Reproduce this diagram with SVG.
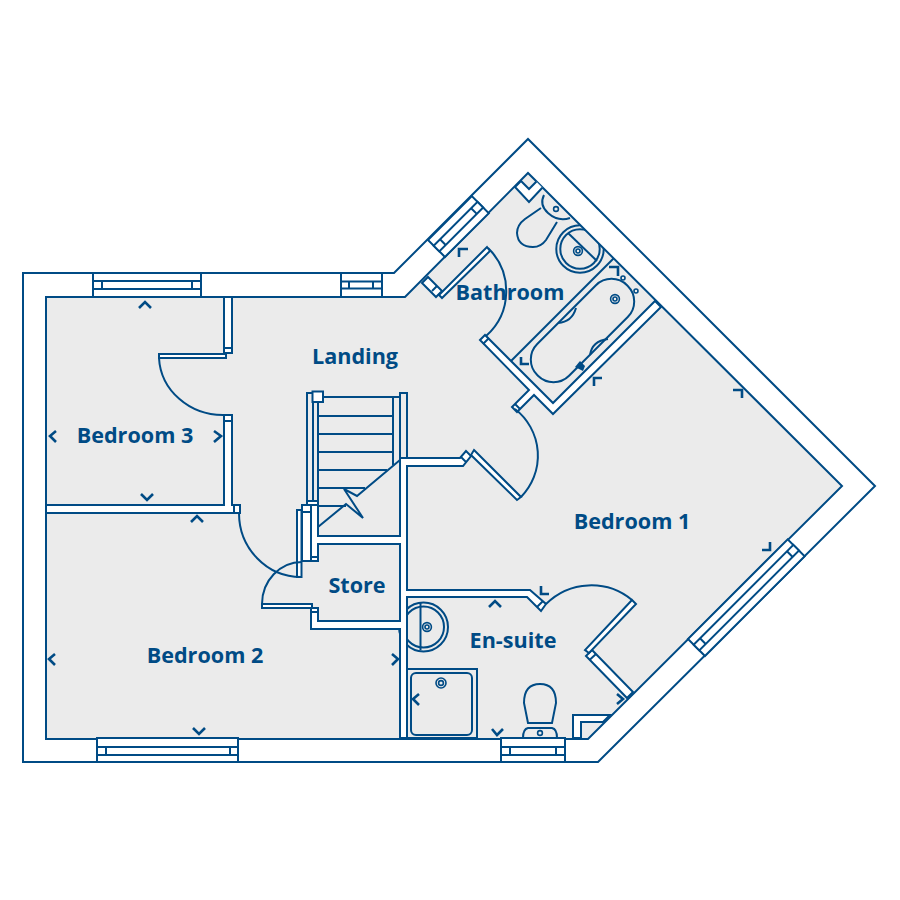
<svg xmlns="http://www.w3.org/2000/svg" width="900" height="900" viewBox="0 0 900 900">
<style>
.l{fill:none;stroke:#004b85;stroke-width:2;stroke-linejoin:miter}
.t{fill:none;stroke:#004b85;stroke-width:1.6}
.w{fill:#fff;stroke:#004b85;stroke-width:2;stroke-linejoin:miter}
.g{fill:#ebebeb;stroke:#004b85;stroke-width:2}
.m{fill:none;stroke:#004b85;stroke-width:2.6}
text{font-family:"Open Sans","Noto Sans",sans-serif;font-weight:700;font-size:21.6px;fill:#004b85;text-anchor:middle}
</style>
<defs>
<clipPath id="floorClip"><polygon points="46,297 405,297 528,173 842,486 588,739 46,739"/></clipPath>
</defs>
<rect width="900" height="900" fill="#fff"/>
<polygon class="w" points="23,273 394,273 528,139 875,486 598,762 23,762"/>
<polygon class="g" points="46,297 405,297 528,173 842,486 588,739 46,739"/>

<g id="fixtures" clip-path="url(#floorClip)">
<polygon class="w" points="515,187 521,181 529,189 537,181 543,187 529,202"/>
<path class="l" d="M544,195Q539,205 548,213Q558,222 570,218"/>
<circle class="t" cx="556" cy="209" r="2.4"/>
<path class="l" d="M541,208L525,219Q517,225 517,233Q518,247 533,247Q541,247 546,240L557,222"/>
<circle class="l" cx="580" cy="249" r="23.7"/>
<circle class="l" cx="580" cy="249" r="19.7"/>
<line class="l" x1="568" y1="233" x2="597" y2="261"/>
<circle class="t" cx="578" cy="251" r="4.4"/><circle class="t" cx="578" cy="251" r="2"/>
<line class="l" x1="511" y1="361" x2="613.5" y2="258.5"/>
<rect class="l" x="519" y="308" width="127" height="45" rx="22" transform="rotate(-45 582.5 330.5)"/>
<path class="l" d="M558,323Q572,322 576,308"/>
<path class="l" d="M590,355Q592,341 608,339"/>
<polygon fill="#004b85" points="575,367 580,361 585,366 583,371"/>
<circle class="t" cx="615" cy="299" r="4.4"/><circle class="t" cx="615" cy="299" r="2"/>
<circle class="t" cx="623" cy="278" r="2"/><circle class="t" cx="636" cy="291" r="2"/>
<circle class="l" cx="423.5" cy="627" r="24.5"/>
<circle class="l" cx="423.5" cy="627" r="20.5"/>
<line class="l" x1="420.5" y1="603" x2="420.5" y2="650"/>
<circle class="t" cx="427" cy="627" r="4.4"/><circle class="t" cx="427" cy="627" r="2"/>
<rect class="l" x="407" y="669" width="70" height="69"/>
<rect class="l" x="411" y="673" width="61" height="62" rx="5"/>
<circle class="t" cx="441" cy="683" r="5"/><circle class="t" cx="441" cy="683" r="2.4"/>
<path class="l" d="M528,723L524,703Q524,684 540,684Q556,684 556,703L552,723Z"/>
<path class="l" d="M523,738Q523,729 528,728L552,728Q557,729 557,738"/>
<circle class="t" cx="540" cy="733" r="2.4"/>
<polygon class="w" points="573,738 573,715 610,715 603,722 581,722 581,738"/>
</g>

<g id="stairs">
<rect class="g" x="307" y="393" width="6" height="108"/>
<rect class="g" x="313" y="397" width="5" height="104"/>
<rect class="w" x="307" y="501" width="11" height="4"/>
<rect class="g" x="400" y="393" width="7" height="66"/>
<line class="l" x1="318" y1="397" x2="400" y2="397"/>
<line class="l" x1="393" y1="397" x2="393" y2="465"/>
<line class="l" x1="318" y1="416" x2="393" y2="416"/>
<line class="l" x1="318" y1="434" x2="393" y2="434"/>
<line class="l" x1="318" y1="452" x2="393" y2="452"/>
<line class="l" x1="318" y1="470" x2="387" y2="470"/>
<line class="l" x1="318" y1="488" x2="365" y2="488"/>
<line class="l" x1="318" y1="506" x2="346" y2="506"/>
<polyline class="l" points="400,460 357,496 344,489 363,518 346,504 318,527"/>
<rect class="w" x="312.500" y="391.500" width="10.500" height="10.500"/>
</g>

<g id="walls">
<rect class="w" x="224" y="297" width="8" height="56"/>
<line class="l" x1="224" y1="348" x2="232" y2="348"/>
<polygon class="w" points="224,415 232,415 232,505 240,505 240,513 46,513 46,505 224,505"/>
<line class="l" x1="224" y1="421" x2="232" y2="421"/>
<line class="l" x1="234" y1="505" x2="234" y2="513"/>
<polygon class="w" points="311,505 318,505 318,536 400,536 400,458 460,458 466,451 471,456 463,466 407,466 407,590 530,590 546,604 541,611 527,597 407,597 407,738 400,738 400,629 311,629 311,608 318,608 318,621 400,621 400,544 318,544 318,561 311,561"/>
<rect class="w" x="302" y="505" width="9" height="7"/>
<rect class="w" x="302" y="512" width="9" height="49"/>
<line class="l" x1="311" y1="557" x2="318" y2="557"/>
<line class="l" x1="311" y1="612" x2="318" y2="612"/>
<line class="l" x1="461" y1="457" x2="466" y2="462"/>
<line class="l" x1="537" y1="607" x2="543" y2="601"/>
<polygon class="w" points="480,340 485,335 553,403 655,301 661,307 553,414 534,395 517,412 512,407 529,390"/>
<line class="l" x1="483" y1="344" x2="489" y2="338"/>
<line class="l" x1="515" y1="404" x2="520" y2="409"/>
<polygon class="w" points="428,277 442,291 436,297 422,283"/>
<line class="l" x1="432" y1="291" x2="437" y2="286"/>
<polygon class="w" points="586,656 592,650 633,692 627,698"/>
<line class="l" x1="589.500" y1="660" x2="596" y2="654"/>
</g>

<g id="doors">
<rect class="w" x="159" y="354" width="67" height="4"/>
<path class="l" d="M159,358A64,60 0 0 0 224,415"/>
<rect class="w" x="297" y="510" width="4.500" height="67"/>
<path class="l" d="M239,513A62,64 0 0 0 301,577"/>
<rect class="w" x="262" y="604" width="50" height="4"/>
<path class="l" d="M262,604A40,42 0 0 1 302,562"/>
<polygon class="w" points="474,450 521,497 517,500 471,455"/>
<path class="l" d="M521,497A59,59 0 0 0 515,409"/>
<polygon class="w" points="487,247 490,251 442,298 439,295"/>
<path class="l" d="M488,248A60,60 0 0 1 486,336"/>
<polygon class="w" points="632,600 636,604 589,653 585,650"/>
<path class="l" d="M546,604A64,64 0 0 1 632,600"/>
</g>

<g id="windows">
<g id="window-bed3"><rect class="w" x="93" y="273" width="108" height="24"/><rect class="w" x="93" y="281" width="108" height="8"/><line class="l" x1="102" y1="281" x2="102" y2="289"/><line class="l" x1="192" y1="281" x2="192" y2="289"/></g>
<g id="window-landing"><rect class="w" x="341" y="273" width="41" height="24"/><rect class="w" x="341" y="281.500" width="41" height="7"/><line class="l" x1="349" y1="281" x2="349" y2="289"/><line class="l" x1="373" y1="281" x2="373" y2="289"/></g>
<g id="window-bed2"><rect class="w" x="97" y="738" width="141" height="24"/><rect class="w" x="97" y="747" width="141" height="8"/><line class="l" x1="106" y1="747" x2="106" y2="755"/><line class="l" x1="230" y1="747" x2="230" y2="755"/></g>
<g id="window-ensuite"><rect class="w" x="501" y="738" width="64" height="24"/><rect class="w" x="501" y="747" width="64" height="8"/><line class="l" x1="510" y1="747" x2="510" y2="755"/><line class="l" x1="556" y1="747" x2="556" y2="755"/></g>
<g id="window-bathroom" transform="translate(428,240) rotate(-45)"><rect class="w" x="0" y="0" width="62" height="24"/><rect class="w" x="0" y="8" width="62" height="8"/><line class="l" x1="9" y1="8" x2="9" y2="16"/><line class="l" x1="53" y1="8" x2="53" y2="16"/></g>
<g id="window-bed1" transform="translate(688,639) rotate(-45)"><rect class="w" x="0" y="0" width="141" height="24"/><rect class="w" x="0" y="8" width="141" height="8"/><line class="l" x1="9" y1="8" x2="9" y2="16"/><line class="l" x1="132" y1="8" x2="132" y2="16"/></g>
</g>

<g id="dimension-marks">
<polyline class="m" points="459,257 459,249 468,249"/>
<polyline class="m" points="609,267 618,267 618,276"/>
<polyline class="m" points="521,357 521,364 529,364"/>
<polyline class="m" points="594,386 594,378 602,378"/>
<polyline class="m" points="733,390 742,390 742,398"/>
<polyline class="m" points="762,550 770,550 770,542"/>
<polyline class="m" points="541,586 541,594 549,594"/>
<polyline class="m" points="139,308 145,302 151,308"/>
<polyline class="m" points="56,431 50,436 56,442"/>
<polyline class="m" points="214,431 221,436 214,442"/>
<polyline class="m" points="141,494 147,500 153,494"/>
<polyline class="m" points="191,522 197,516 203,522"/>
<polyline class="m" points="55,654 49,659 55,665"/>
<polyline class="m" points="193,728 199,734 205,728"/>
<polyline class="m" points="392,654 398,659 392,665"/>
<polyline class="m" points="489,607 495,601 501,607"/>
<polyline class="m" points="492,729 497,735 503,729"/>
<polyline class="m" points="419,694 413,699 419,705"/>
<polyline class="m" points="617,694 623,699 617,704"/>
</g>

<g id="bathroom"><text x="510" y="300">Bathroom</text></g>
<g id="landing"><text x="355" y="364">Landing</text></g>
<g id="bedroom-3"><text x="135" y="443">Bedroom 3</text></g>
<g id="bedroom-1"><text x="632" y="529">Bedroom 1</text></g>
<g id="store"><text x="357" y="593">Store</text></g>
<g id="en-suite"><text x="513" y="648">En-suite</text></g>
<g id="bedroom-2"><text x="205" y="663">Bedroom 2</text></g>
</svg>
